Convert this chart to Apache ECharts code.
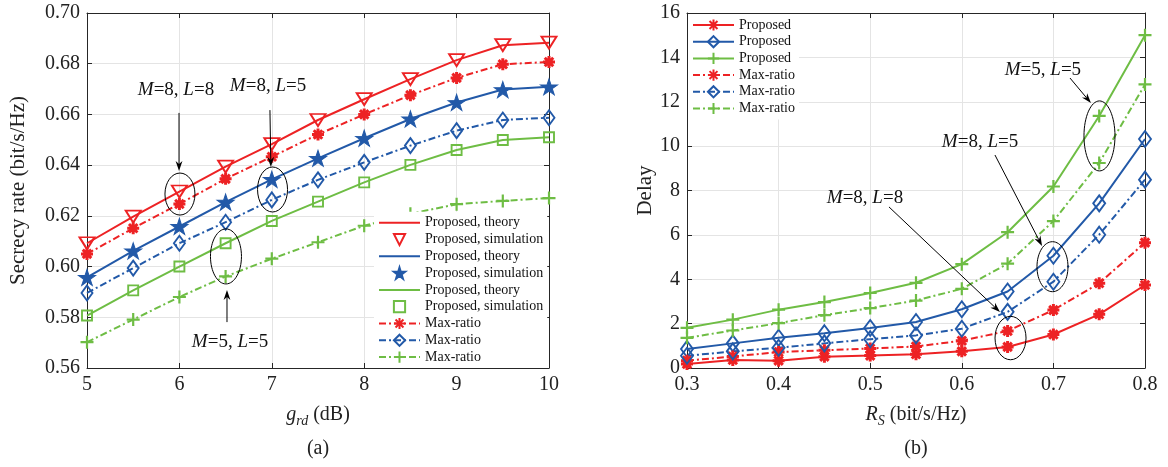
<!DOCTYPE html>
<html><head><meta charset="utf-8">
<script src="https://cdn.jsdelivr.net/npm/echarts@6/dist/echarts.min.js"></script>
<style>html,body{margin:0;padding:0;background:#fff}#c{width:1168px;height:467px}</style>
</head><body><div id="c"></div>
<script>
// ---------- data (a) ----------
const gRd = [5, 5.5, 6, 6.5, 7, 7.5, 8, 8.5, 9, 9.5, 10];
const rateRedProposed   = [0.6092, 0.6197, 0.6296, 0.6394, 0.6483, 0.6578, 0.6660, 0.6739, 0.6814, 0.6873, 0.6883];
const rateRedMaxRatio   = [0.6050, 0.6151, 0.6247, 0.6346, 0.6433, 0.6521, 0.6600, 0.6676, 0.6744, 0.6798, 0.6807];
const rateBlueProposed  = [0.5957, 0.6062, 0.6158, 0.6254, 0.6344, 0.6427, 0.6506, 0.6582, 0.6647, 0.6698, 0.6709];
const rateBlueMaxRatio  = [0.5896, 0.5994, 0.6092, 0.6175, 0.6263, 0.6342, 0.6411, 0.6477, 0.6536, 0.6578, 0.6587];
const rateGreenProposed = [0.5807, 0.5906, 0.6000, 0.6092, 0.6180, 0.6256, 0.6332, 0.6401, 0.6460, 0.6499, 0.6510];
const rateGreenMaxRatio = [0.5702, 0.5791, 0.5880, 0.5961, 0.6031, 0.6096, 0.6161, 0.6208, 0.6246, 0.6259, 0.6270];
const legendA = ['Proposed, theory', 'Proposed, simulation', 'Proposed, theory', 'Proposed, simulation',
                 'Proposed, theory', 'Proposed, simulation', 'Max-ratio', 'Max-ratio', 'Max-ratio'];

// ---------- data (b) ----------
const rS = [0.3, 0.35, 0.4, 0.45, 0.5, 0.55, 0.6, 0.65, 0.7, 0.75, 0.8];
const delayRedProposed   = [0.18, 0.36, 0.33, 0.51, 0.56, 0.62, 0.75, 0.95, 1.51, 2.42, 3.74];
const delayRedMaxRatio   = [0.33, 0.52, 0.72, 0.80, 0.88, 0.97, 1.23, 1.67, 2.61, 3.82, 5.65];
const delayBlueProposed  = [0.86, 1.11, 1.36, 1.57, 1.80, 2.07, 2.65, 3.45, 5.06, 7.42, 10.32];
const delayBlueMaxRatio  = [0.55, 0.75, 0.91, 1.11, 1.30, 1.47, 1.77, 2.53, 3.89, 6.01, 8.49];
const delayGreenProposed = [1.81, 2.18, 2.63, 2.97, 3.38, 3.84, 4.68, 6.12, 8.18, 11.36, 15.00];
const delayGreenMaxRatio = [1.36, 1.69, 2.02, 2.38, 2.70, 3.04, 3.57, 4.70, 6.62, 9.24, 12.78];
const legendB = ['Proposed', 'Proposed', 'Proposed', 'Max-ratio', 'Max-ratio', 'Max-ratio'];

// annotations in data coordinates
const annotA = [
  {text: '{i|M}=8, {i|L}=8', at: [5.963, 0.6696], from: [5.996, 0.6606], to: [5.996, 0.6377], ell: [6.006, 0.6286], r: [15, 21]},
  {text: '{i|M}=8, {i|L}=5', at: [6.959, 0.6712], from: [6.98, 0.6617], to: [6.99, 0.6393], ell: [7.008, 0.6304], r: [15, 22.5]},
  {text: '{i|M}=5, {i|L}=5', at: [6.548, 0.5702], from: [6.515, 0.5781], to: [6.515, 0.5908], ell: [6.504, 0.6040], r: [15.5, 27.5]}
];
const annotB = [
  {text: '{i|M}=5, {i|L}=5', at: [0.6886, 13.43], from: [0.7181, 13.07], to: [0.7410, 11.94], ell: [0.7503, 10.46], r: [15.5, 35]},
  {text: '{i|M}=8, {i|L}=5', at: [0.6199, 10.19], from: [0.6362, 9.60], to: [0.6876, 5.50], ell: [0.699, 4.566], r: [15.5, 25]},
  {text: '{i|M}=8, {i|L}=8', at: [0.4943, 7.66], from: [0.5205, 7.26], to: [0.6417, 2.52], ell: [0.6532, 1.35], r: [15.5, 21.7]}
];

// ---------- styles ----------
const FF = '"Liberation Serif","Times New Roman",Times,serif';
const RED = '#ed2224', BLUE = '#2259a8', GREEN = '#6ebd44';
const DASHDOT = [7, 3, 2, 3];
const SYM = {
  triDown: 'path://M0,0L100,0L50,87Z',
  star: 'path://M50,0L61.2,34.5L97.6,34.5L68.2,55.9L79.4,90.5L50,69.1L20.6,90.5L31.8,55.9L2.4,34.5L38.8,34.5Z',
  aster: 'path://M50,0L50,100M0,50L100,50M14.6,14.6L85.4,85.4M85.4,14.6L14.6,85.4',
  plus: 'path://M50,0L50,100M0,50L100,50'
};
const CLEAR = 'rgba(255,255,255,0)';

function pairs(xs, ys) { return xs.map((x, i) => [x, ys[i]]); }

function theory(name, gi, xs, ys, color) {
  return {name, type: 'line', xAxisIndex: gi, yAxisIndex: gi, data: pairs(xs, ys), symbol: 'none',
    lineStyle: {color, width: 2}, itemStyle: {color}, z: 2};
}
function marks(name, gi, xs, ys, color, symbol, size, filled, bw) {
  return {name, type: 'line', xAxisIndex: gi, yAxisIndex: gi, data: pairs(xs, ys), symbol, symbolSize: size,
    showSymbol: true, lineStyle: {color, width: 0},
    itemStyle: {color: filled ? color : CLEAR, borderColor: color, borderWidth: bw}, z: 3};
}
function lineMarks(name, gi, xs, ys, color, dash, symbol, size, filled, bw) {
  return {name, type: 'line', xAxisIndex: gi, yAxisIndex: gi, data: pairs(xs, ys), symbol, symbolSize: size,
    showSymbol: true, lineStyle: {color, width: 2, type: dash},
    itemStyle: {color: filled ? color : CLEAR, borderColor: color, borderWidth: bw}, z: 3};
}

const series = [
  theory('a1', 0, gRd, rateRedProposed, RED),
  marks('a2', 0, gRd, rateRedProposed, RED, SYM.triDown, [15, 12], false, 1.9),
  theory('a3', 0, gRd, rateBlueProposed, BLUE),
  marks('a4', 0, gRd, rateBlueProposed, BLUE, SYM.star, [17, 16], true, 1),
  theory('a5', 0, gRd, rateGreenProposed, GREEN),
  marks('a6', 0, gRd, rateGreenProposed, GREEN, 'rect', [10, 10], false, 1.9),
  lineMarks('a7', 0, gRd, rateRedMaxRatio, RED, DASHDOT, SYM.aster, 12, true, 3),
  lineMarks('a8', 0, gRd, rateBlueMaxRatio, BLUE, DASHDOT, 'diamond', [11, 15], false, 1.9),
  lineMarks('a9', 0, gRd, rateGreenMaxRatio, GREEN, DASHDOT, SYM.plus, 13, true, 2.2),

  lineMarks('b1', 1, rS, delayRedProposed, RED, 'solid', SYM.aster, 12, true, 3),
  lineMarks('b2', 1, rS, delayBlueProposed, BLUE, 'solid', 'diamond', [12, 16], false, 1.9),
  lineMarks('b3', 1, rS, delayGreenProposed, GREEN, 'solid', SYM.plus, 13, true, 2.2),
  lineMarks('b4', 1, rS, delayRedMaxRatio, RED, DASHDOT, SYM.aster, 12, true, 3),
  lineMarks('b5', 1, rS, delayBlueMaxRatio, BLUE, DASHDOT, 'diamond', [12, 16], false, 1.9),
  lineMarks('b6', 1, rS, delayGreenMaxRatio, GREEN, DASHDOT, SYM.plus, 13, true, 2.2)
];

const AX = '#262626';
function xMain(gi, min, max, interval, dec, name, rich, gap) {
  return {type: 'value', gridIndex: gi, position: 'bottom', min, max, interval,
    axisLine: {show: true, onZero: false, lineStyle: {color: AX, width: 1}},
    axisTick: {show: true, inside: true, length: 5, lineStyle: {color: AX}},
    axisLabel: {fontSize: 20, fontFamily: FF, color: '#222', margin: 7, formatter: v => dec ? v.toFixed(dec) : String(v)},
    splitLine: {show: true, lineStyle: {color: '#e4e4e4', width: 1}},
    name, nameLocation: 'middle', nameGap: gap,
    nameTextStyle: {fontSize: 20, fontFamily: FF, color: '#222', rich}};
}
function xTop(gi, min, max, interval) {
  return {type: 'value', gridIndex: gi, position: 'top', min, max, interval,
    axisLine: {show: true, onZero: false, lineStyle: {color: AX, width: 1}},
    axisTick: {show: true, inside: true, length: 5, lineStyle: {color: AX}},
    axisLabel: {show: false}, splitLine: {show: false}};
}
function yMain(gi, min, max, interval, dec, name, gap) {
  return {type: 'value', gridIndex: gi, position: 'left', min, max, interval,
    axisLine: {show: true, onZero: false, lineStyle: {color: AX, width: 1}},
    axisTick: {show: true, inside: true, length: 5, lineStyle: {color: AX}},
    axisLabel: {fontSize: 20, fontFamily: FF, color: '#222', margin: 7, formatter: v => dec ? v.toFixed(dec) : String(Math.round(v))},
    splitLine: {show: true, lineStyle: {color: '#e4e4e4', width: 1}},
    name, nameLocation: 'middle', nameGap: gap,
    nameTextStyle: {fontSize: 21, fontFamily: FF, color: '#222'}};
}
function yRight(gi, min, max, interval) {
  return {type: 'value', gridIndex: gi, position: 'right', min, max, interval,
    axisLine: {show: true, onZero: false, lineStyle: {color: AX, width: 1}},
    axisTick: {show: true, inside: true, length: 5, lineStyle: {color: AX}},
    axisLabel: {show: false}, splitLine: {show: false}};
}

const subRich = {
  i: {fontStyle: 'italic', fontSize: 20, fontFamily: FF, color: '#222'},
  s: {fontStyle: 'italic', fontSize: 14, fontFamily: FF, color: '#222', padding: [12, 0, 0, 0]}
};

function legendData(prefix, n, theoryIdx) {
  const out = [];
  for (let i = 1; i <= n; i++) {
    const item = {name: prefix + i};
    if (theoryIdx.indexOf(i) >= 0) item.itemStyle = {color: CLEAR, borderColor: CLEAR, borderWidth: 0};
    out.push(item);
  }
  return out;
}

const chart = echarts.init(document.getElementById('c'), null, {renderer: 'canvas'});
chart.setOption({
  animation: false,
  backgroundColor: '#fff',
  grid: [
    {left: 87, top: 13, width: 462, height: 355, outerBoundsMode: 'none', containLabel: false},
    {left: 687, top: 13, width: 458, height: 355, outerBoundsMode: 'none', containLabel: false}
  ],
  xAxis: [
    xMain(0, 5, 10, 1, 0, '{i|g}{s|rd} (dB)', subRich, 34),
    xMain(1, 0.3, 0.8, 0.1, 1, '{i|R}{s|S} (bit/s/Hz)', subRich, 34),
    xTop(0, 5, 10, 1),
    xTop(1, 0.3, 0.8, 0.1)
  ],
  yAxis: [
    yMain(0, 0.56, 0.70, 0.02, 2, 'Secrecy rate (bit/s/Hz)', 58),
    yMain(1, 0, 16, 2, 0, 'Delay', 31),
    yRight(0, 0.56, 0.70, 0.02),
    yRight(1, 0, 16, 2)
  ],
  legend: [
    {data: legendData('a', 9, [1, 3, 5]), orient: 'vertical', left: 374, top: 211.7, padding: 4,
     itemWidth: 41, itemHeight: 14, itemGap: 2.8, backgroundColor: '#fff', selectedMode: false,
     textStyle: {fontFamily: FF, fontSize: 14, color: '#111'},
     formatter: n => legendA[parseInt(n.slice(1), 10) - 1]},
    {data: legendData('b', 6, []), orient: 'vertical', left: 688, top: 14, padding: 4,
     itemWidth: 41, itemHeight: 14, itemGap: 2.7, backgroundColor: '#fff', selectedMode: false,
     textStyle: {fontFamily: FF, fontSize: 14, color: '#111'},
     formatter: n => legendB[parseInt(n.slice(1), 10) - 1]}
  ],
  series
});

// annotations, positioned through the axes
function px(gi, p) { return chart.convertToPixel({xAxisIndex: gi, yAxisIndex: gi}, p); }
function annot(gi, a) {
  const t = px(gi, a.at), f = px(gi, a.from), e = px(gi, a.to), c = px(gi, a.ell);
  const dx = e[0] - f[0], dy = e[1] - f[1], L = Math.hypot(dx, dy), ux = dx / L, uy = dy / L;
  const hl = 10, hw = 3.4;
  const bx = e[0] - ux * hl, by = e[1] - uy * hl;
  const nx = e[0] - ux * hl * 0.7, ny = e[1] - uy * hl * 0.7;
  return [
    {type: 'text', x: t[0], y: t[1], z: 120,
     style: {text: a.text, fontSize: 19, fontFamily: FF, fill: '#111', align: 'center', verticalAlign: 'middle',
             rich: {i: {fontStyle: 'italic', fontSize: 19, fontFamily: FF, fill: '#111'}}}},
    {type: 'line', z: 120, shape: {x1: f[0], y1: f[1], x2: nx, y2: ny}, style: {stroke: '#000', lineWidth: 1}},
    {type: 'polygon', z: 120, shape: {points: [[e[0], e[1]], [bx - uy * hw, by + ux * hw], [nx, ny], [bx + uy * hw, by - ux * hw]]},
     style: {fill: '#000'}},
    {type: 'ellipse', z: 120, shape: {cx: c[0], cy: c[1], rx: a.r[0], ry: a.r[1]},
     style: {fill: 'none', stroke: '#000', lineWidth: 1}}
  ];
}
const g = [];
annotA.forEach(a => g.push(...annot(0, a)));
annotB.forEach(a => g.push(...annot(1, a)));
const cA = px(0, [7.5, 0.56]), cB = px(1, [0.55, 0]);
g.push({type: 'text', x: cA[0], y: 449, z: 120, style: {text: '(a)', fontSize: 20, fontFamily: FF, fill: '#222', align: 'center', verticalAlign: 'middle'}});
g.push({type: 'text', x: cB[0], y: 449, z: 120, style: {text: '(b)', fontSize: 20, fontFamily: FF, fill: '#222', align: 'center', verticalAlign: 'middle'}});
chart.setOption({graphic: g});
</script>
</body></html>
